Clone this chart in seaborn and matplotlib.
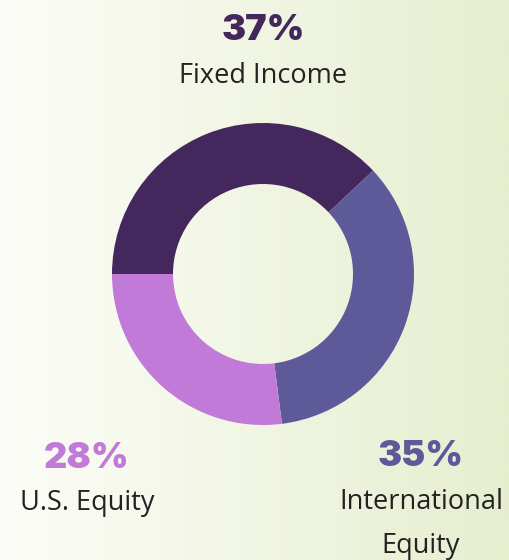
import numpy as np
import matplotlib
matplotlib.use("Agg")
import matplotlib.pyplot as plt
import seaborn as sns

# ----- DATA ---------------|
categories = ["Fixed Income", "International\nEquity", "U.S. Equity"]
share_labels = [37, 35, 28]          # printed figures
wedge_sizes = [38, 35, 27]           # arc sizes as drawn in the picture
colors = ["#44275C", "#5E5A9A", "#C17AD8"]

# label anchors in pixel space (x, y from top)
label_x = [263, 421, 87]
label_y = [31, 457, 458]

sns.set_theme(style="white")
plt.rcParams["font.family"] = ["Open Sans", "DejaVu Sans"]

W, H = 509, 560
fig = plt.figure(figsize=(W / 100, H / 100), dpi=100)
ax = fig.add_axes([0, 0, 1, 1])

# ----- background gradient ---------------|
grad = np.linspace(0, 1, 256).reshape(1, -1)
left = np.array([0xFC, 0xFD, 0xF8]) / 255
right = np.array([0xE6, 0xEE, 0xCF]) / 255
img = left[None, None, :] * (1 - grad[..., None]) + right[None, None, :] * grad[..., None]
ax.imshow(img, extent=[0, W, 0, H], aspect="auto", zorder=0)

# ----- donut ---------------|
ax.pie(wedge_sizes, colors=colors, startangle=180, counterclock=False,
       radius=151, center=(263, H - 274),
       wedgeprops=dict(width=61, edgecolor="none"), frame=True)

# ----- labels ---------------|
for cat, val, col, x, y in zip(categories, share_labels, colors, label_x, label_y):
    ax.text(x, H - y, f"{val}%", ha="center", va="center", fontsize=26,
            fontweight="black", color=col, family=["Inter", "DejaVu Sans"])
    ax.text(x, H - y - 31, cat, ha="center", va="top", fontsize=19.5,
            color="#222222", linespacing=1.75)

ax.set_xlim(0, W)
ax.set_ylim(0, H)
ax.set_aspect("equal")
ax.axis("off")

fig.savefig("out.png", dpi=100)
